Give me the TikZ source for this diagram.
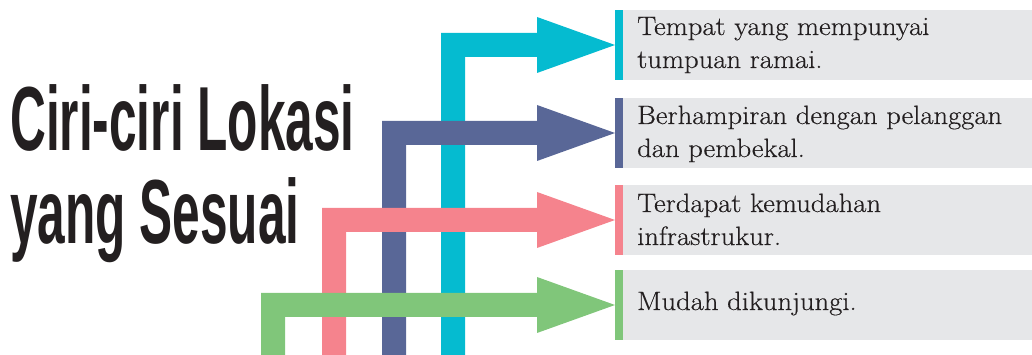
\documentclass[tikz,border=0pt]{standalone}
\usepackage{fontspec}
\usetikzlibrary{calc}
\newfontfamily\titlefont[FakeStretch=0.545]{Liberation Sans Bold}
\newfontfamily\bodyfont[FakeStretch=1.08,FakeBold=0.4]{Latin Modern Roman}

\definecolor{arrowcyan}{HTML}{05BBD0}
\definecolor{arrowblue}{HTML}{596797}
\definecolor{arrowpink}{HTML}{F5838D}
\definecolor{arrowgreen}{HTML}{80C67A}
\definecolor{panelgrey}{HTML}{E6E7E9}
\definecolor{titleink}{HTML}{231F20}
\definecolor{bodyink}{HTML}{231F20}

\tikzset{
  panel/.style={rectangle, fill=panelgrey, inner sep=0pt, outer sep=0pt,
    minimum width=409pt, minimum height=70pt, anchor=west},
  tab/.style={rectangle, fill=#1, inner sep=0pt, outer sep=0pt,
    minimum width=8pt, minimum height=70pt},
  bodytext/.style={anchor=base west, inner sep=0pt, align=left,
    text=bodyink, font=\bodyfont\fontsize{26.5}{33}\selectfont},
  titletext/.style={anchor=base west, inner sep=0pt, align=left,
    text=titleink, font=\titlefont\fontsize{91}{93}\selectfont}
}

% elbow arrow: rises from the bottom edge, turns right and points at a tab
% #1 colour, #2 left x of the vertical shaft, #3 tab node it points at
\newcommand\elbowarrow[3]{%
  \fill[#1] let \p1=(#3.west) in
    (#2,0) -- (#2,\y1+12) -- (537,\y1+12) -- (537,\y1+28) -- (\p1)
    -- (537,\y1-28) -- (537,\y1-12) -- (#2+24,\y1-12) -- (#2+24,0) -- cycle;}

\begin{document}
\begin{tikzpicture}[x=1pt,y=1pt]
  \useasboundingbox (0,0) rectangle (1032,355);

  % panels with coloured tabs
  \node[tab=arrowcyan]  (tab1) at (619,310) {};
  \node[tab=arrowblue]  (tab2) at (619,222) {};
  \node[tab=arrowpink]  (tab3) at (619,135) {};
  \node[tab=arrowgreen] (tab4) at (619,50)  {};
  \node[panel] (box1) at (tab1.east) {};
  \node[panel] (box2) at (tab2.east) {};
  \node[panel] (box3) at (tab3.east) {};
  \node[panel] (box4) at (tab4.east) {};

  % arrows, later ones lying over earlier ones
  \elbowarrow{arrowcyan}{441}{tab1}
  \elbowarrow{arrowblue}{382}{tab2}
  \elbowarrow{arrowpink}{322}{tab3}
  \elbowarrow{arrowgreen}{261}{tab4}

  % panel texts (anchored at the baseline of the last line)
  \node[bodytext] (txt1) at (637,287) {Tempat yang mempunyai\\tumpuan ramai.};
  \node[bodytext] (txt2) at (637,198) {Berhampiran dengan pelanggan\\dan pembekal.};
  \node[bodytext] (txt3) at (637,110) {Terdapat kemudahan\\infrastrukur.};
  \node[bodytext] (txt4) at (637,45)  {Mudah dikunjungi.};

  % heading
  \node[titletext] (head) at (10,111) {Ciri-ciri Lokasi\\yang Sesuai};
\end{tikzpicture}
\end{document}
